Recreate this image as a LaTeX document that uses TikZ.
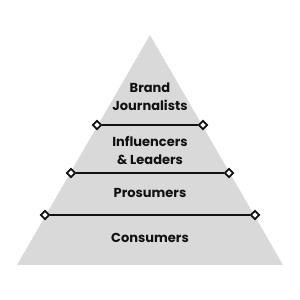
\documentclass[tikz,border=0pt]{standalone}
\usepackage{fontspec}
\setmainfont{Poppins}
\usetikzlibrary{shapes.geometric}
\definecolor{ink}{HTML}{111111}
\definecolor{stone}{HTML}{D9D9D9}
\tikzset{
  tier/.style={font=\bfseries\fontsize{13}{18}\selectfont,text=ink,align=center,inner sep=0pt},
  knob/.style={diamond,draw=ink,fill=white,line width=1.8pt,inner sep=0pt,minimum size=9pt},
  divider/.style={draw=ink,line width=2.2pt},
}
\begin{document}
\begin{tikzpicture}[x=1pt,y=1pt]
  \useasboundingbox (0,0) rectangle (300,300);
  % Pyramid body.
  \fill[stone] (150,265) -- (283,35) -- (17,35) -- cycle;

  % Tier labels, top to bottom.
  \node[tier] (brand) at (150,203) {Brand\\Journalists};
  \node[tier] (influencers) at (150,150) {Influencers\\\& Leaders};
  \node[tier] (prosumers) at (150,107) {Prosumers};
  \node[tier] (consumers) at (150,62) {Consumers};

  % Dividers with diamond ends on the pyramid edges.
  \foreach \name/\y/\half in {one/175/53,two/127/79,three/85/105}
  {\node[knob] (\name l) at (150-\half,\y) {};
   \node[knob] (\name r) at (150+\half,\y) {};
   \draw[divider] (\name l) -- (\name r);}
\end{tikzpicture}
\end{document}
